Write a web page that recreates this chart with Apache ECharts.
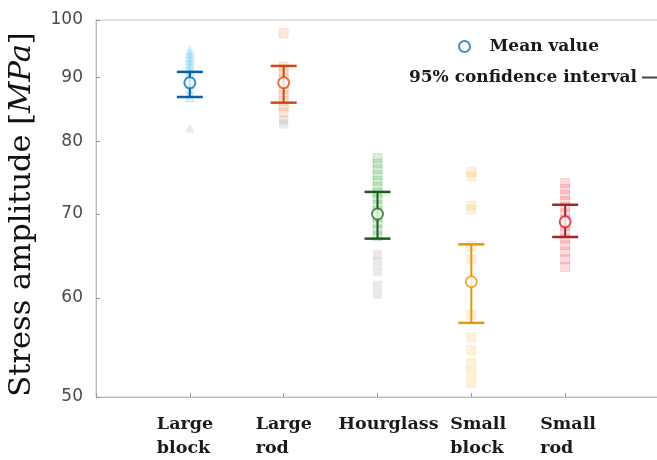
<!DOCTYPE html>
<html><head><meta charset="utf-8">
<script src="https://cdn.jsdelivr.net/npm/echarts@6/dist/echarts.min.js"></script>
<style>html,body{margin:0;padding:0;background:#fff}#c{width:657px;height:460px}</style>
</head><body><div id="c"></div>
<script>
// ---- data ----
const categories = ['Large\nblock', 'Large\nrod', 'Hourglass', 'Small\nblock', 'Small\nrod'];
const yTicks = [50, 60, 70, 80, 90, 100];
const meanValues = [89.1, 89.1, 70.0, 61.8, 69.0];
const ciLower = [86.8, 85.9, 66.9, 57.3, 67.1];
const ciUpper = [90.9, 91.9, 72.9, 66.2, 71.2];
const samplesLargeBlock = [94.6, 94.0, 93.4, 92.9, 92.3, 91.8, 91.2, 90.6, 90.0, 89.4, 88.8, 88.1, 87.4, 86.7];
const grayLargeBlock = [82.0];
const samplesLargeRod = [97.6, 91.8, 90.8, 89.8, 88.9, 88.0, 87.1, 86.2, 85.3, 84.4];
const grayLargeRod = [83.2, 82.6];
const samplesHourglass = [77.6, 76.8, 76.0, 75.2, 74.4, 73.6, 72.8, 72.0, 71.2, 70.4, 69.6, 68.8, 68.0, 67.2];
const grayHourglass = [65.0, 64.1, 63.0, 61.4, 60.4];
const samplesSmallBlock = [75.6, 75.0, 71.1, 70.6, 66.0, 64.4, 58.2, 55.8, 54.5, 53.2, 52.3, 51.3];
const graySmallBlock = [];
const samplesSmallRod = [74.1, 73.3, 72.5, 71.7, 70.9, 70.1, 69.3, 68.5, 67.7, 66.9, 66.1, 65.3, 64.4, 63.5];
const graySmallRod = [];

// ---- styles ----
const sampleSets = [samplesLargeBlock, samplesLargeRod, samplesHourglass, samplesSmallBlock, samplesSmallRod];
const graySets = [grayLargeBlock, grayLargeRod, grayHourglass, graySmallBlock, graySmallRod];
const meanColors = ['#0072BD', '#D95319', '#1E7B1E', '#E89A10', '#E0202A'];
const ciColors = ['#0a5ea8', '#cc4a14', '#1a5c1a', '#E09A10', '#9e2a2a'];
const sampleColors = ['#4DBEEE', '#F08A50', '#40B040', '#F5C040', '#F05060'];
const sampleShapes = ['triangle', 'rect', 'rect', 'rect', 'rect'];
const labelShift = [-2, 3, 11, 10, 6];
const lg = v => Math.log10(v);

const series = [];
sampleSets.forEach((arr, i) => {
  series.push({
    type: 'scatter', symbol: sampleShapes[i], symbolSize: 9, silent: true, z: 1,
    itemStyle: { color: sampleColors[i], opacity: 0.2, borderColor: sampleColors[i], borderWidth: 1 },
    data: arr.map(v => [i + 1, lg(v)])
  });
  if (graySets[i].length) series.push({
    type: 'scatter', symbol: sampleShapes[i], symbolSize: 9, silent: true, z: 1,
    itemStyle: { color: '#999', opacity: 0.22 },
    data: graySets[i].map(v => [i + 1, lg(v)])
  });
});
series.push({
  name: '95% confidence interval', type: 'custom', z: 3,
  itemStyle: { color: '#444' },
  encode: { x: 0, y: [1, 2] },
  data: ciLower.map((lo, i) => [i + 1, lg(lo), lg(ciUpper[i])]),
  renderItem: (params, api) => {
    const x = api.value(0);
    const lo = api.coord([x, api.value(1)]);
    const hi = api.coord([x, api.value(2)]);
    const c = ciColors[params.dataIndex];
    const hw = 13;
    return { type: 'group', children: [
      { type: 'line', shape: { x1: lo[0], y1: lo[1], x2: hi[0], y2: hi[1] }, style: { stroke: c, lineWidth: 2 } },
      { type: 'line', shape: { x1: lo[0] - hw, y1: lo[1], x2: lo[0] + hw, y2: lo[1] }, style: { stroke: c, lineWidth: 2.5 } },
      { type: 'line', shape: { x1: hi[0] - hw, y1: hi[1], x2: hi[0] + hw, y2: hi[1] }, style: { stroke: c, lineWidth: 2.5 } }
    ] };
  }
});
series.push({
  name: 'Mean value', type: 'scatter', symbol: 'emptyCircle', symbolSize: 11, z: 4,
  itemStyle: { color: '#0072BD', borderWidth: 2 },
  data: meanValues.map((v, i) => ({ value: [i + 1, lg(v)], itemStyle: { color: meanColors[i], borderColor: meanColors[i] } }))
});

const rich = {};
labelShift.forEach((s, i) => {
  rich['c' + i] = {
    fontFamily: 'DejaVu Serif', fontWeight: 'bold', fontSize: 17.5, color: '#1a1a1a',
    lineHeight: 24, width: i === 2 ? undefined : 62, align: 'left',
    padding: [0, Math.max(0, -2 * s), 0, Math.max(0, 2 * s)]
  };
});

const legendText = { fontFamily: 'DejaVu Serif', fontWeight: 'bold', fontSize: 17, color: '#1a1a1a' };
const chart = echarts.init(document.getElementById('c'));
chart.setOption({
  animation: false,
  backgroundColor: '#fff',
  grid: { left: 96, width: 563, top: 20, bottom: 63, outerBoundsMode: 'none', containLabel: false,
          show: true, borderColor: '#c8c8c8', borderWidth: 1 },
  legend: [
    { data: ['Mean value'], left: 453, top: 33, itemWidth: 40, itemHeight: 11, icon: 'emptyCircle', textStyle: legendText },
    { data: ['95% confidence interval'], right: -12, top: 64, align: 'right', itemWidth: 22, itemHeight: 2, icon: 'rect', textStyle: legendText }
  ],
  xAxis: {
    type: 'value', min: 0, max: 6, interval: 1,
    axisLine: { lineStyle: { color: '#bdbdbd' } },
    axisTick: { inside: true, length: 4, lineStyle: { color: '#999' } },
    splitLine: { show: false },
    axisLabel: {
      margin: 15, showMinLabel: true, showMaxLabel: true,
      formatter: v => {
        const i = Math.round(v) - 1;
        if (i < 0 || i >= categories.length) return '';
        return categories[i].split('\n').map(t => '{c' + i + '|' + t + '}').join('\n');
      },
      rich: rich
    }
  },
  yAxis: {
    type: 'value', min: lg(yTicks[0]), max: lg(yTicks[yTicks.length - 1]),
    axisLine: { show: true, lineStyle: { color: '#bdbdbd' } },
    axisTick: { show: true, inside: true, length: 4, lineStyle: { color: '#999' }, customValues: yTicks.map(lg) },
    splitLine: { show: false },
    axisLabel: {
      customValues: yTicks.map(lg), margin: 13,
      fontFamily: 'DejaVu Sans', fontSize: 17, color: '#4a4a4a',
      formatter: v => String(Math.round(Math.pow(10, v)))
    },
    name: '{a|Stress amplitude }{a|[}{i|MPa}{a|]}',
    nameLocation: 'middle', nameRotate: 90, nameGap: 58,
    nameTextStyle: {
      padding: [0, 12, 0, 0],
      rich: {
        a: { fontFamily: 'DejaVu Serif', fontSize: 30.5, color: '#111' },
        i: { fontFamily: 'DejaVu Serif', fontStyle: 'italic', fontSize: 30.5, color: '#111' }
      }
    }
  },
  series: series
});
</script>
</body></html>
